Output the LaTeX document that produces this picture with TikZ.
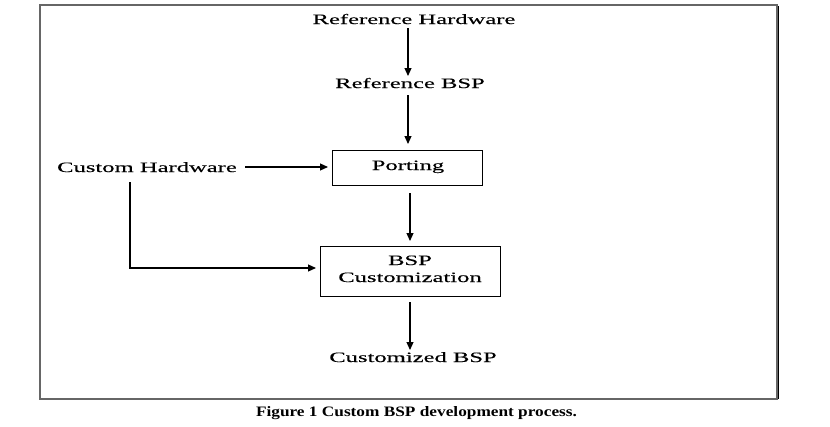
\documentclass[tikz,border=0pt]{standalone}
\usepackage{fontspec}
\usetikzlibrary{arrows.meta}
\newfontfamily\diagfont[FakeStretch=1.72,FakeBold=0.15]{Liberation Serif}
\newfontfamily\capfont[FakeStretch=1.2]{Liberation Serif}
\begin{document}
\begin{tikzpicture}[x=1pt,y=-1pt,
  lbl/.style={inner sep=0pt,anchor=base,font=\diagfont\fontsize{14.3}{16}\selectfont},
  boxnode/.style={draw=black,line width=1pt,inner sep=0pt},
  conn/.style={line width=1.1pt,-{Triangle[length=8pt,width=7pt]}}]
\useasboundingbox (0,0) rectangle (830,426);
% frame
\draw[line width=1.2pt,draw=black!60] (40,5) rectangle (777,399);
\draw[line width=1pt,draw=black] (778,6) -- (778,399);
% nodes
\node[lbl] (refhw) at (414,24) {Reference Hardware};
\node[lbl] (refbsp) at (410,88) {Reference BSP};
\node[boxnode,minimum width=150pt,minimum height=35pt] (port) at (407,167.5) {};
\node[lbl] (portlbl) at (408,170) {Porting};
\node[lbl] (custhw) at (147,172) {Custom Hardware};
\node[boxnode,minimum width=180pt,minimum height=50pt] (cust) at (410,271) {};
\node[lbl] (custlbl1) at (410,265) {BSP};
\node[lbl] (custlbl2) at (410,282) {Customization};
\node[lbl] (custbsp) at (413,362) {Customized BSP};
\coordinate (c1) at (408,28);
\coordinate (c2) at (408,76);
\coordinate (c3) at (408,95);
\coordinate (c4) at (408,144);
\coordinate (e1) at (130,182);
\coordinate (e2) at (130,268);
\coordinate (e3) at (316,268);
\coordinate (h1) at (245,167);
\coordinate (h2) at (328,167);
\coordinate (v1) at (410,193);
\coordinate (v2) at (410,241);
\coordinate (w1) at (410,302);
\coordinate (w2) at (410,350);
% connectors
\draw[conn] (c1) -- (c2);
\draw[conn] (c3) -- (c4);
\draw[conn] (h1) -- (h2);
\draw[conn] (v1) -- (v2);
\draw[conn] (e1) -- (e2) -- (e3);
\draw[conn] (w1) -- (w2);
% caption
\node[inner sep=0pt,anchor=base,font=\capfont\bfseries\fontsize{14.4}{16}\selectfont] (caption) at (416.5,416) {Figure 1 Custom BSP development process.};
\end{tikzpicture}
\end{document}
